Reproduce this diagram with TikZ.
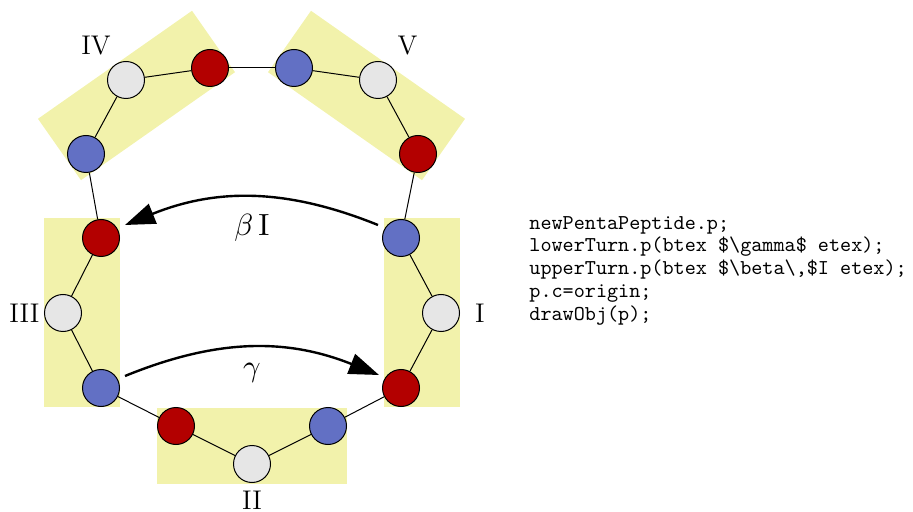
\documentclass[tikz,border=0pt]{standalone}
\usepackage{graphicx}
\usetikzlibrary{arrows.meta,calc}
\definecolor{pepred}{RGB}{179,0,0}
\definecolor{pepblue}{RGB}{98,112,196}
\definecolor{pepgray}{RGB}{230,230,230}
\definecolor{pepyellow}{RGB}{242,242,171}
\begin{document}
\begin{tikzpicture}[x=0.5pt,y=-0.5pt,
  atom/.style={circle,draw=black,line width=0.5pt,minimum size=18.5pt,inner sep=0pt},
  ared/.style={atom,fill=pepred},
  ablue/.style={atom,fill=pepblue},
  agray/.style={atom,fill=pepgray},
  bond/.style={line width=0.5pt},
  turnarrow/.style={-{Triangle[length=15pt,width=10.5pt]},line width=1.2pt},
  grp/.style={fill=pepyellow},
  lbl/.style={font=\fontsize{13.5}{16}\selectfont,inner sep=0pt,anchor=base},
  mlbl/.style={inner sep=0pt,anchor=base},
  codeline/.style={font=\fontsize{10.57}{11.5}\selectfont\ttfamily,inner sep=0pt,anchor=base west}
]
\useasboundingbox (0,0) rectangle (913,512);
% group backgrounds
\fill[grp] (384,218) rectangle (460,407);
\fill[grp] (44,218) rectangle (120,407);
\fill[grp] (157,408) rectangle (347,484);
\fill[grp] (38,118.8) -- (192,10.8) -- (235,72.2) -- (81,180.2) -- cycle;
\fill[grp] (465,118.8) -- (311,10.8) -- (268,72.2) -- (422,180.2) -- cycle;
% atoms
\node[ablue] (Ib) at (401,238) {};
\node[agray] (Ig) at (441,313) {};
\node[ared]  (Ir) at (401,388) {};
\node[ablue] (IIb) at (328,426) {};
\node[agray] (IIg) at (252,464) {};
\node[ared]  (IIr) at (176,426) {};
\node[ablue] (IIIb) at (101,388) {};
\node[agray] (IIIg) at (63,313) {};
\node[ared]  (IIIr) at (101,238) {};
\node[ablue] (IVb) at (86,154) {};
\node[agray] (IVg) at (126,80) {};
\node[ared]  (IVr) at (210,68) {};
\node[ablue] (Vb) at (294,68) {};
\node[agray] (Vg) at (378,80) {};
\node[ared]  (Vr) at (418,154) {};
% bonds
\draw[bond] (Ir) -- (IIb);
\draw[bond] (IIb) -- (IIg);
\draw[bond] (IIg) -- (IIr);
\draw[bond] (IIr) -- (IIIb);
\draw[bond] (IIIb) -- (IIIg);
\draw[bond] (IIIg) -- (IIIr);
\draw[bond] (IIIr) -- (IVb);
\draw[bond] (IVb) -- (IVg);
\draw[bond] (IVg) -- (IVr);
\draw[bond] (IVr) -- (Vb);
\draw[bond] (Vb) -- (Vg);
\draw[bond] (Vg) -- (Vr);
\draw[bond] (Vr) -- (Ib);
\draw[bond] (Ib) -- (Ig);
\draw[bond] (Ig) -- (Ir);
% turn arrows
\coordinate (b1) at ($(Ib)+(-23,-13)$);
\coordinate (b2) at ($(IIIr)+(24,-13)$);
\coordinate (g1) at ($(IIIb)+(24,-12)$);
\coordinate (g2) at ($(Ir)+(-22,-13)$);
\draw[turnarrow] (b1) to[bend right=22] (b2);
\draw[turnarrow] (g1) to[bend left=22] (g2);
% labels
\node[lbl] (lIV) at (96,55) {IV};
\node[lbl] (lV) at (407.5,55) {V};
\node[lbl] (lIII) at (24.5,323) {III};
\node[lbl] (lI) at (480,322) {I};
\node[lbl] (lII) at (252,509) {II};
\node[mlbl] (lbeta) at (252,236) {\scalebox{1.53}{$\beta\,$I}};
\node[mlbl] (lgamma) at (252,376) {\scalebox{1.53}{$\gamma$}};
% code
\node[codeline] (c1) at (529,229.3) {newPentaPeptide.p;};
\node[codeline] (c2) at (529,252.0) {lowerTurn.p(btex \$\textbackslash gamma\$ etex);};
\node[codeline] (c3) at (529,274.8) {upperTurn.p(btex \$\textbackslash beta\textbackslash,\$I etex);};
\node[codeline] (c4) at (529,297.5) {p.c=origin;};
\node[codeline] (c5) at (529,320.3) {drawObj(p);};
\end{tikzpicture}
\end{document}
